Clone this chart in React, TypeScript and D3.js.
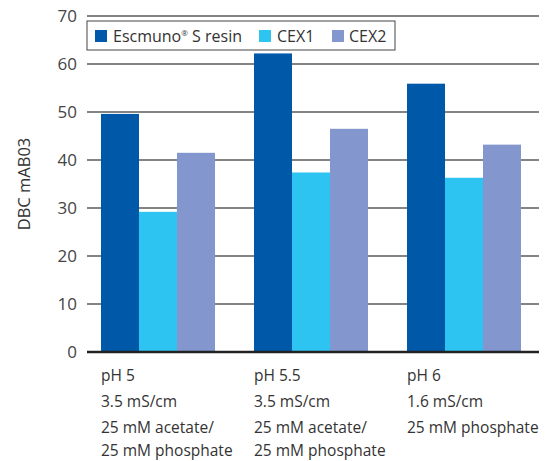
import React from 'react';
import * as d3 from 'd3';

// conditions on the x axis, one label block per group
const groups = ['pH 5', 'pH 5.5', 'pH 6'];
const groupLabels = [
  ['pH 5', '3.5 mS/cm', '25 mM acetate/', '25 mM phosphate'],
  ['pH 5.5', '3.5 mS/cm', '25 mM acetate/', '25 mM phosphate'],
  ['pH 6', '1.6 mS/cm', '25 mM phosphate'],
];
const seriesNames = ['Escmuno S resin', 'CEX1', 'CEX2'];
const escmuno = [49.6, 62.2, 55.9];
const cex1 = [29.2, 37.4, 36.3];
const cex2 = [41.5, 46.5, 43.2];
const yTicks = [0, 10, 20, 30, 40, 50, 60, 70];
const colors = ['#0058A8', '#2EC4F2', '#8397CE'];

const width = 556;
const height = 461;
const left = 87;
const right = 539;
const top = 16;
const bottom = 352;
const font = "'Open Sans', sans-serif";

export default function App() {
  const series = [escmuno, cex1, cex2];

  const y = d3.scaleLinear().domain([0, 70]).range([bottom, top]);
  const x0 = d3.scaleBand<string>()
    .domain(groups)
    .range([left, 535])
    .paddingInner(0.255)
    .paddingOuter(0.0915);
  const x1 = d3.scaleBand<number>()
    .domain(d3.range(seriesNames.length))
    .range([0, x0.bandwidth()]);

  return (
    <svg width={width} height={height} style={{ position: 'absolute', left: 0, top: 0 }}>
      {/* grid lines and y tick labels */}
      {yTicks.map(t => (
        <g key={t}>
          {t > 0 && (
            <line x1={left} x2={right} y1={y(t)} y2={y(t)} stroke="#5a5a5a" strokeWidth={1.5} />
          )}
          <text x={77} y={y(t)} dy="0.35em" textAnchor="end" fontFamily={font} fontSize={17} fill="#444">
            {t}
          </text>
        </g>
      ))}

      {/* bars */}
      {groups.map((g, gi) => (
        <g key={g} transform={`translate(${x0(g)},0)`}>
          {series.map((vals, si) => (
            <rect
              key={si}
              x={x1(si)}
              y={y(vals[gi])}
              width={x1.bandwidth()}
              height={y(0) - y(vals[gi])}
              fill={colors[si]}
            />
          ))}
        </g>
      ))}

      {/* baseline */}
      <line x1={left} x2={right} y1={y(0)} y2={y(0)} stroke="#222" strokeWidth={2.5} />

      {/* x labels */}
      {groups.map((g, gi) => (
        <text key={g} x={x0(g)} y={381} fontFamily={font} fontSize={15.5} fill="#333">
          {groupLabels[gi].map((line, li) => (
            <tspan key={li} x={x0(g)} y={381 + [0, 26, 52, 75][li]}>{line}</tspan>
          ))}
        </text>
      ))}

      {/* y axis title */}
      <text
        transform={`translate(30,184) rotate(-90)`}
        textAnchor="middle"
        fontFamily={font}
        fontSize={16.5}
        fill="#333"
      >
        DBC mAB03
      </text>

      {/* legend */}
      <rect x={87} y={21} width={308} height={29} fill="#fff" stroke="#444" strokeWidth={1} />
      {[
        { x: 95, tx: 113 },
        { x: 259, tx: 277 },
        { x: 332, tx: 349 },
      ].map((p, i) => (
        <g key={i}>
          <rect x={p.x} y={30} width={12} height={12} fill={colors[i]} />
          <text x={p.tx} y={36} dy="0.35em" fontFamily={font} fontSize={16} fill="#333">
            {i === 0 ? (
              <>
                Escmuno<tspan fontSize={8} dy="-6">®</tspan>
                <tspan dy="6"> S resin</tspan>
              </>
            ) : (
              seriesNames[i]
            )}
          </text>
        </g>
      ))}
    </svg>
  );
}
